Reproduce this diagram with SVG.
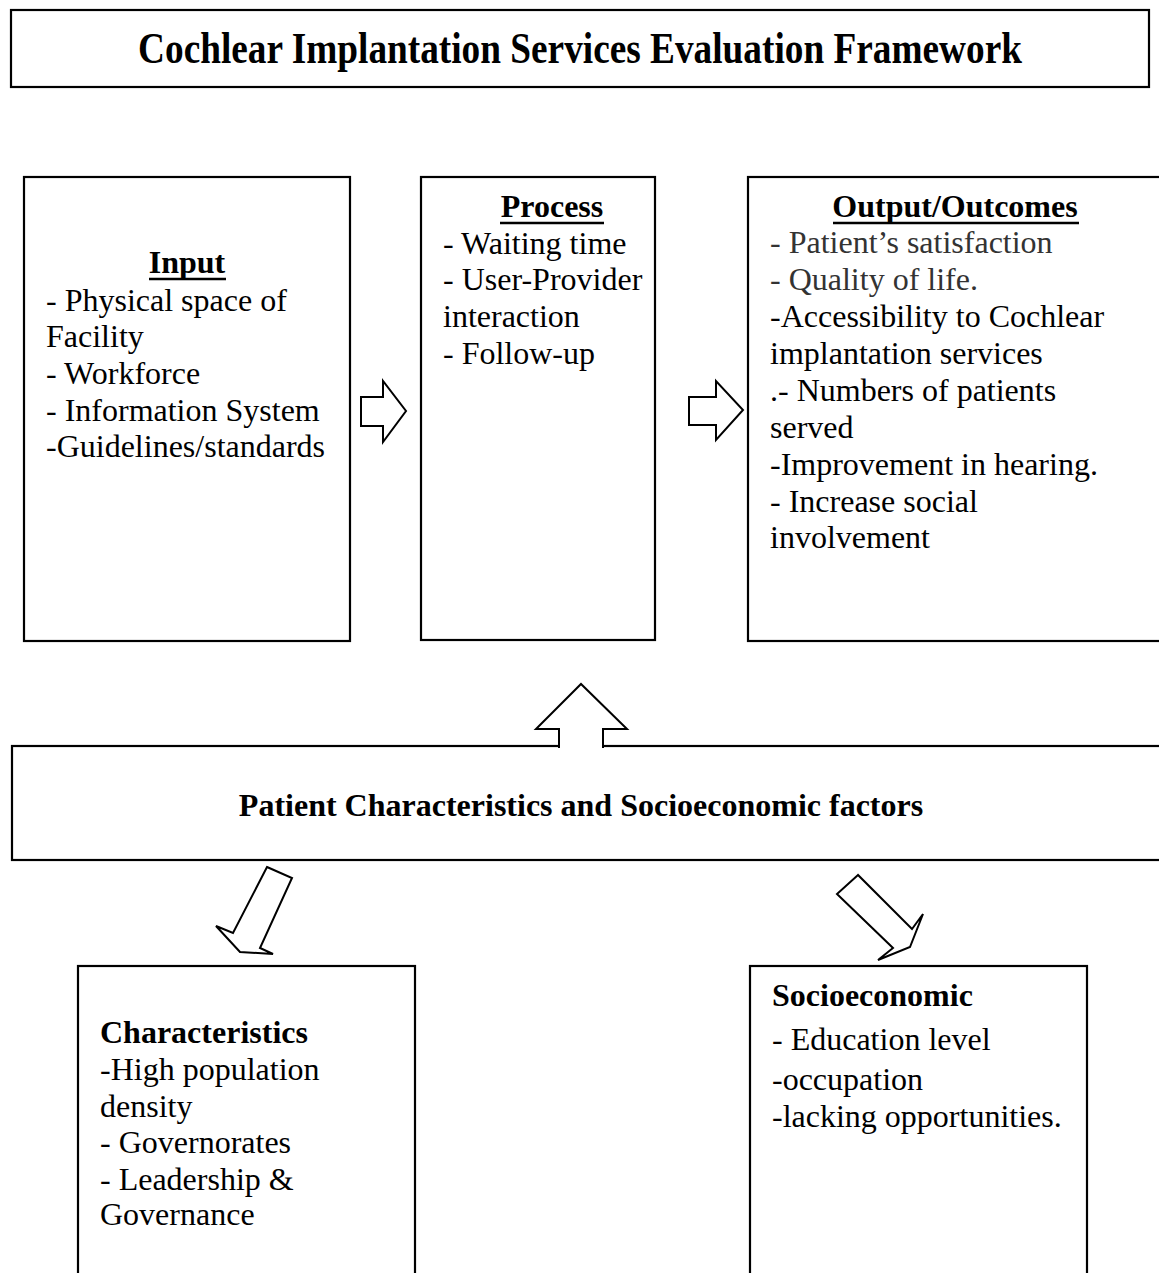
<svg xmlns="http://www.w3.org/2000/svg" width="1159" height="1273" viewBox="0 0 1159 1273">
<style>
.box{fill:#fff;stroke:#000;stroke-width:2.2}
.arr{fill:#fff;stroke:#000;stroke-width:2;stroke-linejoin:miter}
text{font-family:"Liberation Serif","Times New Roman",serif;font-size:32px;fill:#000}
.b{font-weight:bold}
.t{font-weight:bold;font-size:37.3px}
.g{fill:#333}
.ul{stroke:#000;stroke-width:2.5}
</style>
<rect width="1159" height="1273" fill="#fff"/>
<g id="title">
<rect class="box" x="11" y="10" width="1138" height="77" stroke-width="2.6"/>
<text class="t" x="0" y="0" text-anchor="middle" transform="translate(580,63) scale(1,1.2)">Cochlear Implantation Services Evaluation Framework</text>
</g>
<g id="input">
<rect class="box" x="24" y="177" width="326" height="464"/>
<text class="b" x="187" y="273" text-anchor="middle">Input</text>
<line class="ul" x1="149" y1="279" x2="226" y2="279"/>
<text x="46" y="311">- Physical space of</text>
<text x="46" y="347">Facility</text>
<text x="46" y="384">- Workforce</text>
<text x="46" y="421">- Information System</text>
<text x="46" y="457">-Guidelines/standards</text>
</g>
<g id="process">
<rect class="box" x="421" y="177" width="234" height="463"/>
<text class="b" x="552" y="217" text-anchor="middle">Process</text>
<line class="ul" x1="500" y1="223" x2="604" y2="223"/>
<text x="443" y="254">- Waiting time</text>
<text x="443" y="290">- User-Provider</text>
<text x="443" y="327">interaction</text>
<text x="443" y="364">- Follow-up</text>
</g>
<g id="output">
<rect class="box" x="748" y="177" width="420" height="464"/>
<text class="b" x="955" y="217" text-anchor="middle">Output/Outcomes</text>
<line class="ul" x1="833" y1="223" x2="1079" y2="223"/>
<text class="g" x="770" y="253">- Patient’s satisfaction</text>
<text class="g" x="770" y="290">- Quality of life.</text>
<text x="770" y="327">-Accessibility to Cochlear</text>
<text x="770" y="364">implantation services</text>
<text x="770" y="401">.- Numbers of patients</text>
<text x="770" y="438">served</text>
<text x="770" y="475">-Improvement in hearing.</text>
<text x="770" y="512">- Increase social</text>
<text x="770" y="548">involvement</text>
</g>
<g id="patient">
<rect class="box" x="12" y="746" width="1156" height="114"/>
<text class="b" x="581" y="816" text-anchor="middle">Patient Characteristics and Socioeconomic factors</text>
</g>
<g id="characteristics">
<rect class="box" x="78" y="966" width="337" height="320"/>
<text class="b" x="100" y="1043">Characteristics</text>
<text x="100" y="1080">-High population</text>
<text x="100" y="1117">density</text>
<text x="100" y="1153">- Governorates</text>
<text x="100" y="1190">- Leadership &amp;</text>
<text x="100" y="1225">Governance</text>
</g>
<g id="socioeconomic">
<rect class="box" x="750" y="966" width="337" height="320"/>
<text class="b" x="772" y="1006">Socioeconomic</text>
<text x="772" y="1050">- Education level</text>
<text x="772" y="1090">-occupation</text>
<text x="772" y="1127">-lacking opportunities.</text>
</g>
<g id="connectors">
<polygon class="arr" points="361,397 383,397 383,381 406,411 383,442 383,426 361,426"/>
<polygon class="arr" points="689,397 716,397 716,381 743,410 716,440 716,425 689,425"/>
<path class="arr" d="M559,748 L559,729 L536,729 L581,684 L627,729 L603,729 L603,748"/>
<polygon class="arr" points="267,867 292,878 260,948 273,954 240,952 216,926 233,933"/>
<polygon class="arr" points="858,875 837,894 893,948 878,960 910,947 923,914 912,929"/>
</g>
</svg>
